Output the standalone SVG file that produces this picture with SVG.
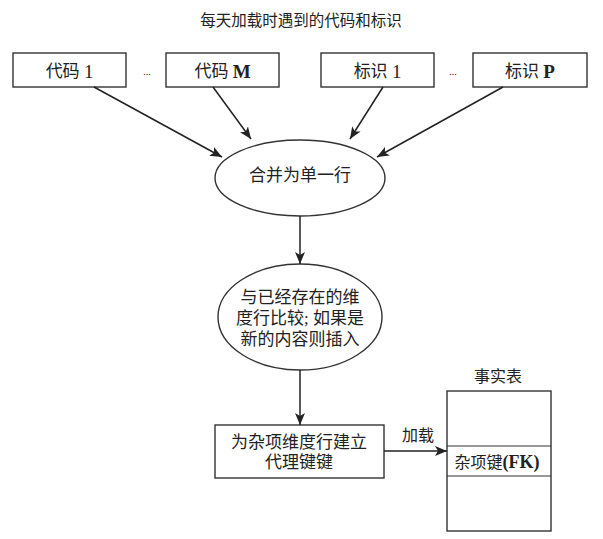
<svg xmlns="http://www.w3.org/2000/svg" width="603" height="539" viewBox="0 0 603 539">
<defs>
<marker id="ah" viewBox="0 0 12 10" refX="12" refY="5" markerWidth="12" markerHeight="10" markerUnits="userSpaceOnUse" orient="auto">
<path d="M0,0 L12,5 L0,10 L3,5 z" fill="#222"/>
</marker>
<style>
.box{fill:#fff;stroke:#333;stroke-width:1.4}
.t{font-family:"Liberation Serif","Noto Sans CJK SC",serif;fill:#222;text-anchor:middle;dominant-baseline:central}
.lb{font-size:17px}
.la{font-size:19px}
.b{font-weight:bold}
.ln{stroke:#222;stroke-width:1.5;fill:none;marker-end:url(#ah)}
</style>
</defs>
<rect width="603" height="539" fill="#fff"/>
<text class="t" x="301" y="20" font-size="15.5">每天加载时遇到的代码和标识</text>
<g id="code1"><rect class="box" x="13" y="53" width="113" height="34"/><text class="t lb" x="69.5" y="71">代码 <tspan class="la">1</tspan></text></g>
<text class="t" x="147" y="71" font-size="10" fill="#555">...</text>
<g id="codeM"><rect class="box" x="166" y="53" width="113" height="34"/><text class="t lb" x="222.5" y="71">代码 <tspan class="la b">M</tspan></text></g>
<g id="id1"><rect class="box" x="321" y="53" width="113" height="34"/><text class="t lb" x="377.5" y="71">标识 <tspan class="la">1</tspan></text></g>
<text class="t" x="453" y="71" font-size="10" fill="#555">...</text>
<g id="idP"><rect class="box" x="473" y="53" width="114" height="34"/><text class="t lb" x="530" y="71">标识 <tspan class="la b">P</tspan></text></g>
<g id="merge"><ellipse class="box" cx="300" cy="178" rx="85" ry="38"/><text class="t lb" x="300" y="175">合并为单一行</text></g>
<g id="compare"><ellipse class="box" cx="300" cy="317" rx="82" ry="53"/>
<text class="t lb" x="300" y="297">与已经存在的维</text>
<text class="t lb" x="300" y="318">度行比较; 如果是</text>
<text class="t lb" x="300" y="339">新的内容则插入</text></g>
<g id="surrogate"><rect class="box" x="215" y="425" width="169" height="53"/>
<text class="t lb" x="299" y="442">为杂项维度行建立</text>
<text class="t lb" x="299" y="462">代理键键</text></g>
<g id="fact"><text class="t" x="498" y="376" font-size="16">事实表</text>
<rect class="box" x="447" y="391" width="104" height="140"/>
<line x1="447" y1="446" x2="551" y2="446" stroke="#333" stroke-width="1.2"/>
<line x1="447" y1="476" x2="551" y2="476" stroke="#333" stroke-width="1.2"/>
<text class="t" x="497" y="462" font-size="16">杂项键<tspan class="b" font-size="18">(FK)</tspan></text></g>
<g id="connectors">
<line class="ln" x1="94" y1="87" x2="222" y2="157"/>
<line class="ln" x1="213" y1="87" x2="251" y2="139"/>
<line class="ln" x1="383" y1="87" x2="350" y2="139"/>
<line class="ln" x1="503" y1="87" x2="377" y2="157"/>
<line class="ln" x1="300" y1="216" x2="300" y2="264"/>
<line class="ln" x1="300" y1="370" x2="300" y2="425"/>
<line class="ln" x1="384" y1="451" x2="447" y2="451"/>
<text class="t" x="418" y="435" font-size="16">加载</text>
</g>
</svg>
